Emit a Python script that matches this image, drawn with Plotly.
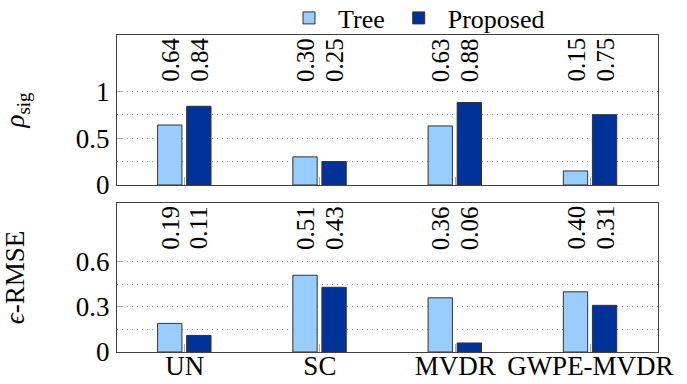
import plotly.graph_objects as go

categories = ["UN", "SC", "MVDR", "GWPE-MVDR"]
rho_tree = [0.64, 0.30, 0.63, 0.15]
rho_proposed = [0.84, 0.25, 0.88, 0.75]
rmse_tree = [0.19, 0.51, 0.36, 0.40]
rmse_proposed = [0.11, 0.43, 0.06, 0.31]
rho_ticks = [0, 0.5, 1]
rho_ticktext = ["0", "0.5", "1"]
rho_minor = [0.25, 0.75]
rmse_ticks = [0, 0.3, 0.6]
rmse_ticktext = ["0", "0.3", "0.6"]
rmse_minor = [0.15, 0.45]

TREE_COLOR = "#99CCFF"
PROP_COLOR = "#003399"
EDGE = "#333333"
FONT = "Liberation Serif, serif"
FS = 26
FS_VAL = 25

W, H = 687, 384
X0, X1 = 117, 658
TOP = (35, 185)
BOT = (203, 352)

fig = go.Figure()

BAR_W = 0.18
OFF_TREE = -0.2
OFF_PROP = 0.015

for (tree, prop, xa, ya, show) in [
    (rho_tree, rho_proposed, "x", "y", True),
    (rmse_tree, rmse_proposed, "x2", "y2", False),
]:
    fig.add_trace(go.Bar(x=categories, y=tree, name="Tree", marker=dict(color=TREE_COLOR, line=dict(color=EDGE, width=1)),
                         width=BAR_W, offset=OFF_TREE, xaxis=xa, yaxis=ya, showlegend=show, legendgroup="tree"))
    fig.add_trace(go.Bar(x=categories, y=prop, name="Proposed", marker=dict(color=PROP_COLOR, line=dict(color=EDGE, width=1)),
                         width=BAR_W, offset=OFF_PROP, xaxis=xa, yaxis=ya, showlegend=show, legendgroup="prop"))

# value labels
for (tree, prop, xa, ya) in [
    (rho_tree, rho_proposed, "x", "y"),
    (rmse_tree, rmse_proposed, "x2", "y2"),
]:
    for i, c in enumerate(categories):
        for vals, off in [(tree, OFF_TREE), (prop, OFF_PROP)]:
            fig.add_annotation(x=i + off + BAR_W / 2, y=1, xref=xa, yref=ya + " domain",
                               text=f"{vals[i]:.2f}", textangle=-90, showarrow=False,
                               xanchor="center", yanchor="top", yshift=-1,
                               font=dict(family=FONT, size=FS_VAL, color="black"))

axis_common = dict(showline=True, mirror=True, linecolor="#404040", linewidth=1,
                   ticks="inside", tickcolor="#aaaaaa", showgrid=False, zeroline=False,
                   automargin=False)
GRID_DASH = "1px,4px"
TITLE_FONT = dict(family=FONT, size=27, color="black")
TICK_FONT = dict(family=FONT, size=27, color="black")

fig.update_layout(
    width=W, height=H,
    margin=dict(l=0, r=0, t=0, b=0, autoexpand=False),
    plot_bgcolor="white", paper_bgcolor="white",
    barmode="group",
    font=dict(family=FONT, size=FS, color="black"),
    showlegend=True,
    legend=dict(orientation="h", x=280 / W, y=1.0 - 18 / H,
                xanchor="left", yanchor="middle",
                font=dict(family=FONT, size=FS), bgcolor="rgba(0,0,0,0)", tracegroupgap=0,
                itemwidth=48),
    xaxis=dict(domain=[X0 / W, X1 / W], anchor="y", range=[-0.5, 3.5], showticklabels=False,
               ticklen=8, **axis_common),
    xaxis2=dict(domain=[X0 / W, X1 / W], anchor="y2", range=[-0.5, 3.5], showticklabels=True,
                ticklen=8, tickfont=TICK_FONT, ticklabelstandoff=-10, **axis_common),
    yaxis=dict(domain=[1 - TOP[1] / H, 1 - TOP[0] / H], anchor="x", range=[0, 1.6],
               tickmode="array", tickvals=rho_ticks, ticktext=rho_ticktext, ticklen=6,
               tickfont=TICK_FONT, ticklabelstandoff=1,
               title=dict(text="<i>ρ</i><sub>sig</sub>", standoff=46, font=TITLE_FONT),
               minor=dict(tickvals=rho_minor + rho_ticks[1:], showgrid=True, griddash=GRID_DASH,
                          gridcolor="#888888", gridwidth=1, ticks=""),
               **axis_common),
    yaxis2=dict(domain=[1 - BOT[1] / H, 1 - BOT[0] / H], anchor="x2", range=[0, 0.99],
                tickmode="array", tickvals=rmse_ticks, ticktext=rmse_ticktext, ticklen=6,
                tickfont=TICK_FONT, ticklabelstandoff=1,
                title=dict(text="<i>ϵ</i>-RMSE", standoff=46, font=TITLE_FONT),
                minor=dict(tickvals=rmse_minor + rmse_ticks[1:], showgrid=True, griddash=GRID_DASH,
                           gridcolor="#888888", gridwidth=1, ticks=""),
                **axis_common),
)

# remove the browser's default 8px page margin so the figure fills the window exactly
fig.write_html("out.html", config={"displayModeBar": False},
               post_script="document.body.style.margin='0';")
